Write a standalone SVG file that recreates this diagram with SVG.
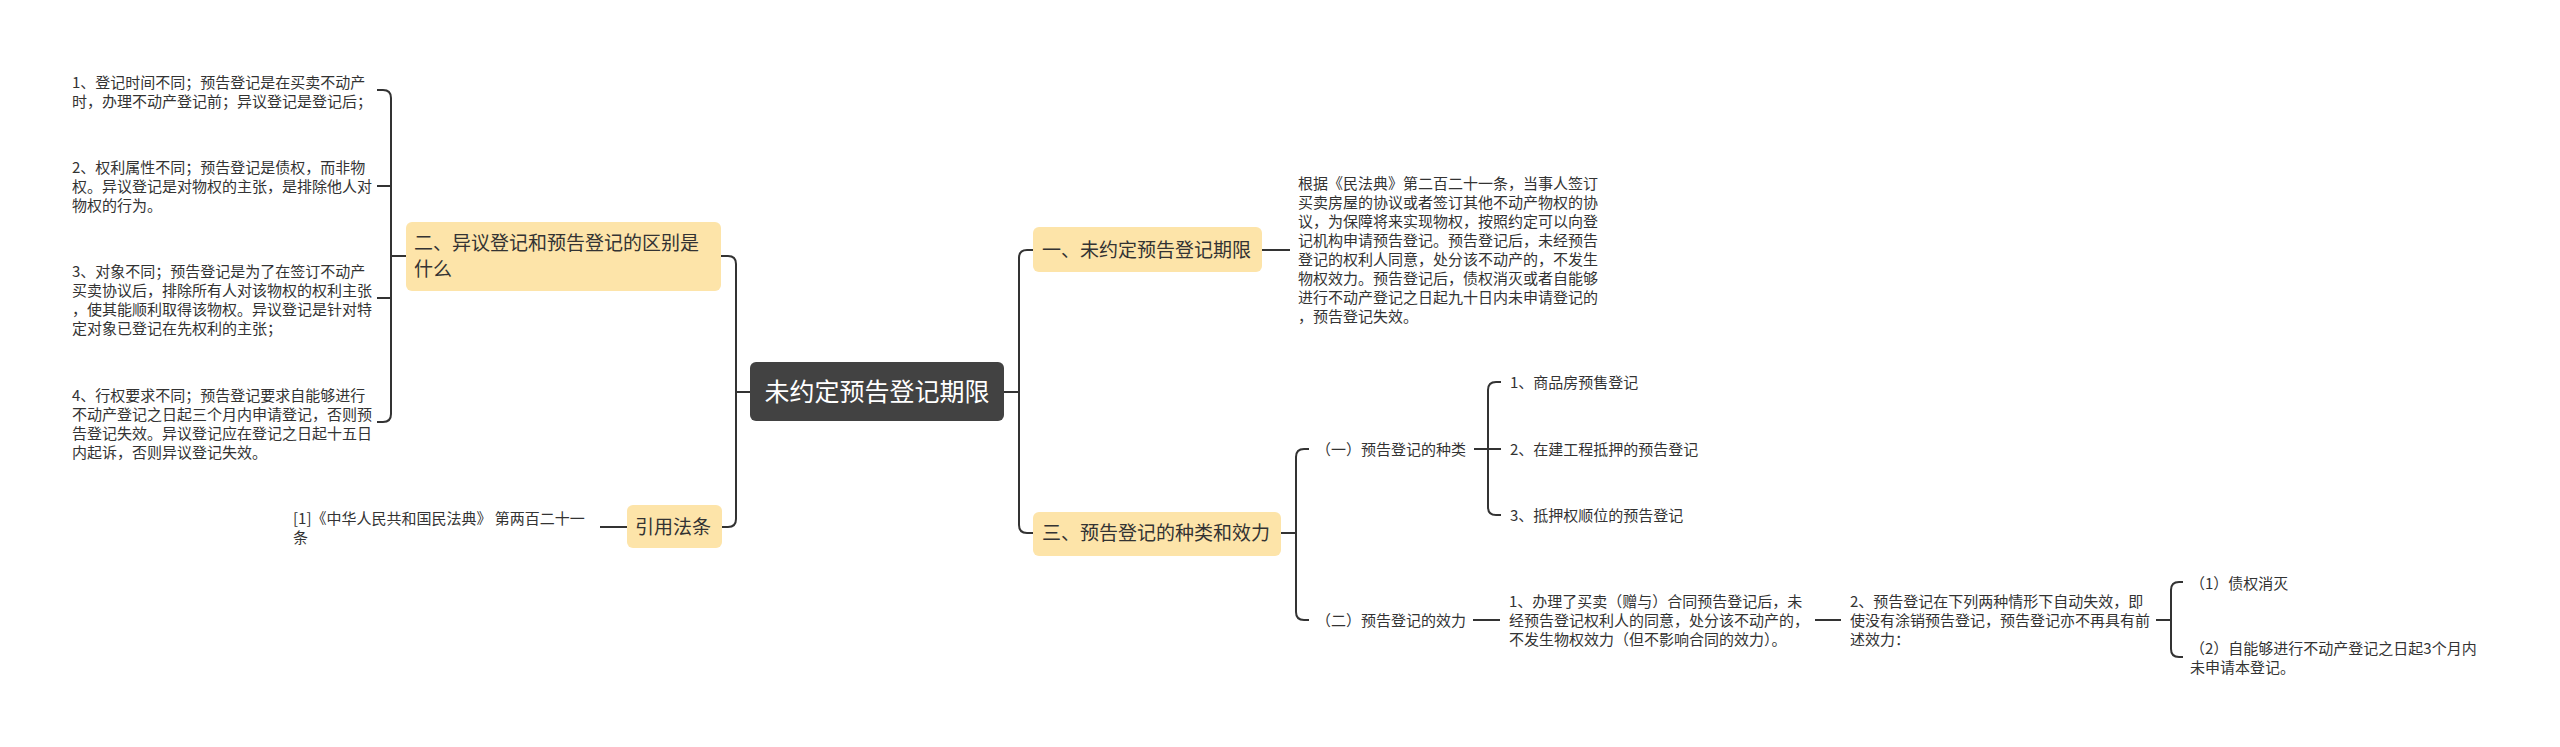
<svg xmlns="http://www.w3.org/2000/svg" width="2560" height="747" viewBox="0 0 2560 747">
<style>
text{font-family:"Noto Sans CJK SC","Noto Sans",sans-serif;fill:#333}
.leaf{font-size:15px}
.topic{font-size:19px}
.root{font-size:25px;fill:#fff}
.box{fill:#fde4a9}
.conn path{fill:none;stroke:#333;stroke-width:2}
</style>
<rect width="2560" height="747" fill="#fff"/>
<g id="connectors" class="conn">
<path d="M750,392 H736"/>
<path d="M721,256 H728 Q736,256 736,264 V519 Q736,527 728,527 H722"/>
<path d="M406,256 H391"/>
<path d="M377,90 H383 Q391,90 391,98 V414 Q391,422 383,422 H377"/>
<path d="M377,186 H391 M377,298 H391"/>
<path d="M627,527 H600"/>
<path d="M1004,392 H1019"/>
<path d="M1033,250 H1027 Q1019,250 1019,258 V525 Q1019,533 1027,533 H1033"/>
<path d="M1262,250 H1290"/>
<path d="M1281,533 H1296"/>
<path d="M1309,449 H1304 Q1296,449 1296,457 V612 Q1296,620 1304,620 H1309"/>
<path d="M1474,449 H1501"/>
<path d="M1501,382 H1496 Q1488,382 1488,390 V507 Q1488,515 1496,515 H1501"/>
<path d="M1473,620 H1500"/>
<path d="M1815,620 H1841"/>
<path d="M2156,620 H2171"/>
<path d="M2183,582 H2179 Q2171,582 2171,590 V649 Q2171,657 2179,657 H2183"/>
</g>
<g id="root">
<rect x="750" y="362" width="254" height="59" rx="6" fill="#424242"/>
<text class="root" x="877" y="401" text-anchor="middle">未约定预告登记期限</text>
</g>
<g id="n2">
<rect class="box" x="406" y="222" width="315" height="69" rx="6"/>
<text class="topic" x="414" y="250">二、异议登记和预告登记的区别是</text>
<text class="topic" x="414" y="276">什么</text>
</g>
<g id="n2-1">
<text class="leaf" x="72" y="87.5">1、登记时间不同；预告登记是在买卖不动产</text>
<text class="leaf" x="72" y="106.5">时，办理不动产登记前；异议登记是登记后；</text>
</g>
<g id="n2-2">
<text class="leaf" x="72" y="172.5">2、权利属性不同；预告登记是债权，而非物</text>
<text class="leaf" x="72" y="191.5">权。异议登记是对物权的主张，是排除他人对</text>
<text class="leaf" x="72" y="210.5">物权的行为。</text>
</g>
<g id="n2-3">
<text class="leaf" x="72" y="276.5">3、对象不同；预告登记是为了在签订不动产</text>
<text class="leaf" x="72" y="295.5">买卖协议后，排除所有人对该物权的权利主张</text>
<text class="leaf" x="72" y="314.5">，使其能顺利取得该物权。异议登记是针对特</text>
<text class="leaf" x="72" y="333.5">定对象已登记在先权利的主张；</text>
</g>
<g id="n2-4">
<text class="leaf" x="72" y="400.5">4、行权要求不同；预告登记要求自能够进行</text>
<text class="leaf" x="72" y="419.5">不动产登记之日起三个月内申请登记，否则预</text>
<text class="leaf" x="72" y="438.5">告登记失效。异议登记应在登记之日起十五日</text>
<text class="leaf" x="72" y="457.5">内起诉，否则异议登记失效。</text>
</g>
<g id="law">
<rect class="box" x="627" y="505" width="95" height="43" rx="6"/>
<text class="topic" x="635" y="534">引用法条</text>
</g>
<g id="law-1">
<text class="leaf" x="293" y="523.5">[1]《中华人民共和国民法典》 第两百二十一</text>
<text class="leaf" x="293" y="542.5">条</text>
</g>
<g id="n1">
<rect class="box" x="1033" y="227" width="229" height="45" rx="6"/>
<text class="topic" x="1042" y="257">一、未约定预告登记期限</text>
</g>
<g id="n1-1">
<text class="leaf" x="1298" y="188.5">根据《民法典》第二百二十一条，当事人签订</text>
<text class="leaf" x="1298" y="207.5">买卖房屋的协议或者签订其他不动产物权的协</text>
<text class="leaf" x="1298" y="226.5">议，为保障将来实现物权，按照约定可以向登</text>
<text class="leaf" x="1298" y="245.5">记机构申请预告登记。预告登记后，未经预告</text>
<text class="leaf" x="1298" y="264.5">登记的权利人同意，处分该不动产的，不发生</text>
<text class="leaf" x="1298" y="283.5">物权效力。预告登记后，债权消灭或者自能够</text>
<text class="leaf" x="1298" y="302.5">进行不动产登记之日起九十日内未申请登记的</text>
<text class="leaf" x="1298" y="321.5">，预告登记失效。</text>
</g>
<g id="n3">
<rect class="box" x="1033" y="512" width="248" height="44" rx="6"/>
<text class="topic" x="1042" y="540">三、预告登记的种类和效力</text>
</g>
<g id="n3-1">
<text class="leaf" x="1316" y="454.5">（一）预告登记的种类</text>
</g>
<g id="n3-1-1"><text class="leaf" x="1510" y="387.5">1、商品房预售登记</text></g>
<g id="n3-1-2"><text class="leaf" x="1510" y="454.5">2、在建工程抵押的预告登记</text></g>
<g id="n3-1-3"><text class="leaf" x="1510" y="520.5">3、抵押权顺位的预告登记</text></g>
<g id="n3-2">
<text class="leaf" x="1316" y="625.5">（二）预告登记的效力</text>
</g>
<g id="n3-2-1">
<text class="leaf" x="1509" y="606.5">1、办理了买卖（赠与）合同预告登记后，未</text>
<text class="leaf" x="1509" y="625.5">经预告登记权利人的同意，处分该不动产的，</text>
<text class="leaf" x="1509" y="644.5">不发生物权效力（但不影响合同的效力）。</text>
</g>
<g id="n3-2-2">
<text class="leaf" x="1850" y="606.5">2、预告登记在下列两种情形下自动失效，即</text>
<text class="leaf" x="1850" y="625.5">使没有涂销预告登记，预告登记亦不再具有前</text>
<text class="leaf" x="1850" y="644.5">述效力：</text>
</g>
<g id="n3-2-2-1">
<text class="leaf" x="2190" y="588.5">（1）债权消灭</text>
</g>
<g id="n3-2-2-2">
<text class="leaf" x="2190" y="653.5">（2）自能够进行不动产登记之日起3个月内</text>
<text class="leaf" x="2190" y="672.5">未申请本登记。</text>
</g>
</svg>
